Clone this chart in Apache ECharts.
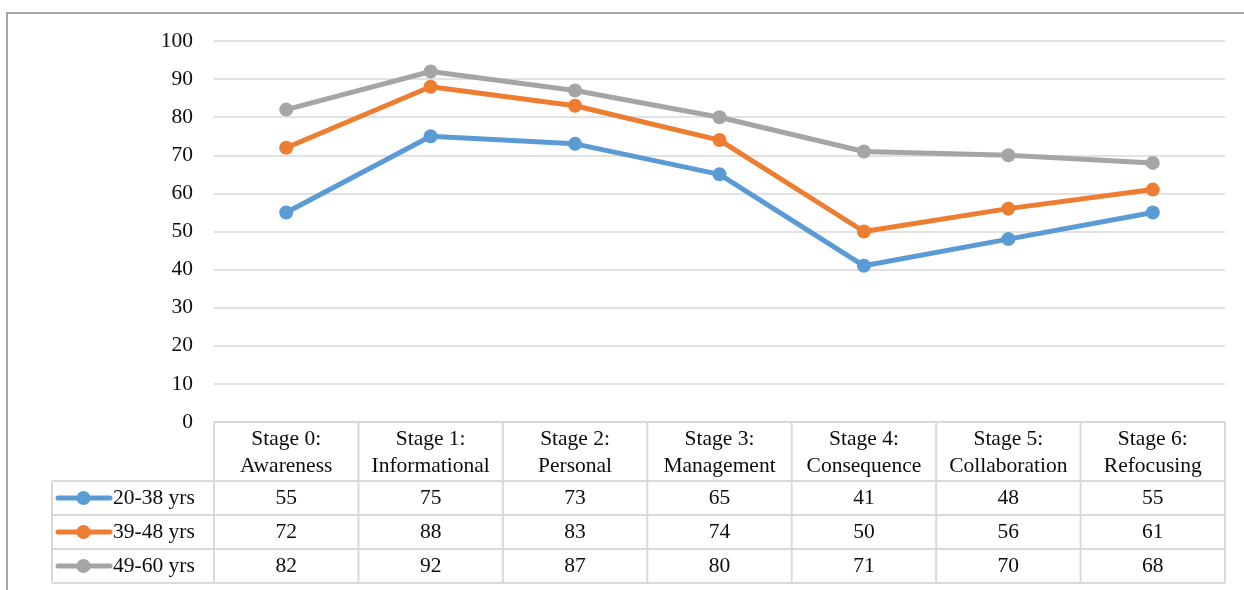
<!DOCTYPE html>
<html>
<head>
<meta charset="utf-8">
<script src="https://cdn.jsdelivr.net/npm/echarts@6/dist/echarts.min.js"></script>
<style>
  html, body { margin: 0; padding: 0; background: #fff; }
  #chart { width: 1244px; height: 590px; }
</style>
</head>
<body>
<div id="chart"></div>
<script>
// Stage categories (two-line headers of the data table)
const stages = [
  'Stage 0:\nAwareness',
  'Stage 1:\nInformational',
  'Stage 2:\nPersonal',
  'Stage 3:\nManagement',
  'Stage 4:\nConsequence',
  'Stage 5:\nCollaboration',
  'Stage 6:\nRefocusing'
];

// Scores by age group
const age20to38 = [55, 75, 73, 65, 41, 48, 55];
const age39to48 = [72, 88, 83, 74, 50, 56, 61];
const age49to60 = [82, 92, 87, 80, 71, 70, 68];

const seriesNames = ['20-38 yrs', '39-48 yrs', '49-60 yrs'];
const seriesData = [age20to38, age39to48, age49to60];
const seriesColors = ['#5b9bd5', '#ed7d31', '#a5a5a5'];

const FONT = 'Liberation Serif';
const FONT_SIZE = 21.5;
const TEXT_COLOR = '#0d0d0d';
const BORDER = '#d9d9d9';

const chart = echarts.init(document.getElementById('chart'), null, { renderer: 'canvas' });

const baseOption = {
  animation: false,
  backgroundColor: '#fff',
  grid: { left: 214, right: 19, top: 41, bottom: 168, containLabel: false },
  xAxis: {
    type: 'category',
    data: stages,
    boundaryGap: true,
    axisLine: { show: false },
    axisTick: { show: false },
    axisLabel: {
      interval: 0,
      margin: 4,
      fontFamily: FONT,
      fontSize: FONT_SIZE,
      lineHeight: 27,
      color: TEXT_COLOR
    },
    splitLine: { show: false }
  },
  yAxis: {
    type: 'value',
    min: 0,
    max: 100,
    interval: 10,
    axisLine: { show: false },
    axisTick: { show: false },
    axisLabel: {
      margin: 21,
      fontFamily: FONT,
      fontSize: FONT_SIZE,
      color: TEXT_COLOR
    },
    splitLine: { lineStyle: { color: BORDER, width: 1.5 } }
  },
  series: seriesNames.map((name, i) => ({
    name: name,
    type: 'line',
    data: seriesData[i],
    symbol: 'circle',
    symbolSize: 14,
    lineStyle: { width: 5, color: seriesColors[i] },
    itemStyle: { color: seriesColors[i] },
    z: 3 + i
  }))
};

chart.setOption(baseOption);

// Build the data table under the plot from the axis geometry
function buildTable() {
  const n = stages.length;
  const centers = stages.map((_, i) => chart.convertToPixel({ xAxisIndex: 0 }, i));
  const half = (centers[1] - centers[0]) / 2;
  const xLeft = centers[0] - half;
  const xRight = centers[n - 1] + half;
  const yTop = chart.convertToPixel({ yAxisIndex: 0 }, 0);
  const HEADER_H = 59;
  const ROW_H = 34;
  const legendLeft = 52;
  const rowTops = [0, 1, 2, 3].map(r => yTop + HEADER_H + r * ROW_H);
  const yBottom = rowTops[3];

  const els = [];
  const line = (x1, y1, x2, y2) => ({
    type: 'line',
    shape: { x1, y1, x2, y2 },
    style: { stroke: BORDER, lineWidth: 2 },
    silent: true,
    z: 1
  });

  // outer frame of the whole figure
  els.push({
    type: 'rect',
    shape: { x: 7, y: 13, width: 1300, height: 700 },
    style: { fill: null, stroke: '#a6a6a6', lineWidth: 2 },
    silent: true,
    z: 0
  });

  // horizontal rules
  els.push(line(xLeft, yTop, xRight, yTop));
  rowTops.forEach(y => els.push(line(legendLeft, y, xRight, y)));

  // vertical rules
  for (let k = 0; k <= n; k++) {
    const x = xLeft + k * 2 * half;
    els.push(line(x, yTop, x, yBottom));
  }
  els.push(line(legendLeft, rowTops[0], legendLeft, yBottom));

  // row headers with line-and-marker keys, then the values
  seriesNames.forEach((name, r) => {
    const cy = (rowTops[r] + rowTops[r + 1]) / 2;
    els.push({
      type: 'line',
      shape: { x1: 58, y1: cy, x2: 110, y2: cy },
      style: { stroke: seriesColors[r], lineWidth: 5, lineCap: 'round' },
      silent: true, z: 2
    });
    els.push({
      type: 'circle',
      shape: { cx: 83.5, cy: cy, r: 7 },
      style: { fill: seriesColors[r] },
      silent: true, z: 2
    });
    els.push({
      type: 'text',
      x: 113, y: cy,
      style: {
        text: name, fontFamily: FONT, fontSize: FONT_SIZE, fill: TEXT_COLOR,
        align: 'left', verticalAlign: 'middle'
      },
      silent: true, z: 2
    });
    seriesData[r].forEach((v, i) => {
      els.push({
        type: 'text',
        x: centers[i], y: cy,
        style: {
          text: String(v), fontFamily: FONT, fontSize: FONT_SIZE, fill: TEXT_COLOR,
          align: 'center', verticalAlign: 'middle'
        },
        silent: true, z: 2
      });
    });
  });

  chart.setOption({ graphic: { elements: els } });
}

buildTable();
</script>
</body>
</html>
